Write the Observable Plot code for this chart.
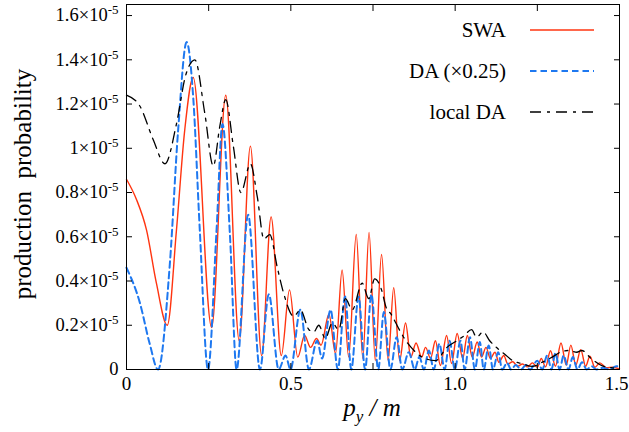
<!DOCTYPE html>
<html><head><meta charset="utf-8">
<script src="https://cdn.jsdelivr.net/npm/d3@7"></script>
<script src="https://cdn.jsdelivr.net/npm/@observablehq/plot@0.6"></script>
<style>body{margin:0;background:#fff} svg, svg text{font-family:"Liberation Serif",serif}</style>
</head><body><div id="chart"></div>
<script>
// x: p_y / m ; y: production probability in units of 1e-5
const swa = [
[0,0.86],[0.03,0.77],[0.061,0.63],[0.091,0.39],[0.124,0.20],[0.152,0.63],[0.177,1.08],[0.203,1.32],
[0.259,0.19],[0.302,1.24],[0.343,0.13],[0.377,1.01],[0.411,0.063],[0.440,0.69],[0.471,0.063],[0.496,0.36],
[0.521,0.056],[0.542,0.154],[0.560,0.10],[0.578,0.14],[0.592,0.11],[0.616,0.25],[0.636,0.072],[0.656,0.45],
[0.676,0.056],[0.699,0.61],[0.719,0.05],[0.738,0.62],[0.757,0.04],[0.776,0.52],[0.796,0.04],[0.813,0.37],
[0.831,0.04],[0.849,0.21],[0.865,0.056],[0.881,0.12],[0.898,0.056],[0.910,0.10],[0.925,0.05],[0.940,0.13],
[0.955,0.018],[0.974,0.154],[0.989,0.027],[1.006,0.163],[1.023,0.05],[1.037,0.154],[1.052,0.056],[1.067,0.124],
[1.080,0.056],[1.094,0.10],[1.107,0.05],[1.121,0.078],[1.133,0.033],[1.148,0.063],[1.160,0.025],[1.175,0.035],
[1.19,0.015],[1.205,0.025],[1.22,0.012],[1.235,0.03],[1.25,0.01],[1.262,0.05],[1.275,0.012],[1.29,0.085],
[1.305,0.015],[1.322,0.12],[1.338,0.02],[1.352,0.11],[1.367,0.02],[1.382,0.09],[1.397,0.015],[1.41,0.06],
[1.425,0.01],[1.44,0.03],[1.46,0.008],[1.48,0.01],[1.5,0.003]
];
const da = [
[0,0.46],[0.041,0.30],[0.07,0.12],[0.096,0.0],[0.132,0.48],[0.157,1.08],[0.183,1.48],[0.203,1.23],
[0.223,0.63],[0.248,0.0],[0.274,0.63],[0.292,1.11],[0.315,0.6],[0.335,0.0],[0.370,0.70],[0.406,0.0],
[0.433,0.34],[0.463,0.0],[0.484,0.063],[0.499,0.0],[0.529,0.27],[0.555,0.0],[0.580,0.13],[0.595,0.05],
[0.621,0.27],[0.643,0.0],[0.665,0.33],[0.684,0.0],[0.706,0.33],[0.726,0.0],[0.745,0.34],[0.766,0.0],
[0.783,0.26],[0.803,0.0],[0.822,0.146],[0.839,0.0],[0.859,0.078],[0.877,0.0],[0.891,0.056],[0.905,0.0],
[0.920,0.086],[0.935,0.0],[0.952,0.116],[0.968,0.0],[0.983,0.13],[0.999,0.0],[1.016,0.13],[1.029,0.0],
[1.045,0.146],[1.060,0.0],[1.075,0.124],[1.087,0.0],[1.102,0.109],[1.115,0.0],[1.131,0.078],[1.143,0.0],
[1.158,0.03],[1.17,0.0],[1.185,0.02],[1.20,0.0],[1.215,0.02],[1.228,0.0],[1.25,0.04],[1.265,0.0],
[1.28,0.063],[1.293,0.0],[1.305,0.074],[1.318,0.0],[1.33,0.063],[1.345,0.0],[1.358,0.056],[1.372,0.0],
[1.386,0.033],[1.40,0.0],[1.415,0.015],[1.43,0.0],[1.45,0.008],[1.47,0.0],[1.49,0.015],[1.5,0.01]
];
const localDa = [
[0,1.24],[0.041,1.19],[0.081,1.04],[0.117,0.93],[0.152,1.11],[0.18,1.33],[0.208,1.40],[0.238,1.16],
[0.264,0.92],[0.284,1.10],[0.302,1.22],[0.325,1.01],[0.348,0.80],[0.377,0.93],[0.398,0.78],[0.418,0.59],
[0.436,0.61],[0.459,0.46],[0.479,0.34],[0.509,0.24],[0.529,0.27],[0.555,0.18],[0.570,0.17],[0.585,0.20],
[0.605,0.14],[0.626,0.21],[0.646,0.18],[0.666,0.32],[0.687,0.27],[0.717,0.39],[0.737,0.32],[0.755,0.41],
[0.776,0.36],[0.79,0.28],[0.805,0.25],[0.83,0.18],[0.85,0.13],[0.866,0.10],[0.90,0.056],[0.94,0.04],
[0.975,0.10],[1.005,0.13],[1.025,0.15],[1.05,0.18],[1.065,0.146],[1.085,0.17],[1.105,0.13],[1.13,0.094],
[1.15,0.07],[1.175,0.04],[1.205,0.026],[1.235,0.014],[1.265,0.033],[1.295,0.056],[1.32,0.078],[1.345,0.086],
[1.37,0.078],[1.385,0.086],[1.415,0.048],[1.445,0.018],[1.475,0.008],[1.5,0.005]
];
const xTickMarks = [0,0.25,0.5,0.75,1,1.25,1.5];
const xTickLabels = [0,0.5,1,1.5];
const xTickText = ["0","0.5","1.0","1.5"];
const yTicks = [0,0.2,0.4,0.6,0.8,1,1.2,1.4,1.6];
const yTickText = ["0","0.2×10^-5","0.4×10^-5","0.6×10^-5","0.8×10^-5","1×10^-5","1.2×10^-5","1.4×10^-5","1.6×10^-5"];
const seriesNames = ["SWA","DA (×0.25)","local DA"];
const seriesColors = ["#ff3410","#1e78f0","#000000"];

const X = d => d[0], Y = d => d[1];
const chart = Plot.plot({
  width: 629, height: 432,
  marginLeft: 126, marginRight: 10, marginTop: 4, marginBottom: 63,
  x: {domain: [0, 1.5]},
  y: {domain: [0, 1.65]},
  style: {fontFamily: "Liberation Serif", fontSize: "18px", background: "white", color: "black"},
  marks: [
    Plot.line(swa, {x: X, y: Y, stroke: seriesColors[0], strokeWidth: 1.4, curve: "monotone-x"}),
    Plot.line(da, {x: X, y: Y, stroke: seriesColors[1], strokeWidth: 2, strokeDasharray: "6.5,4", curve: "monotone-x"}),
    Plot.line(localDa, {x: X, y: Y, stroke: seriesColors[2], strokeWidth: 1.3, strokeDasharray: "11,6,3,6", curve: "monotone-x"}),
    Plot.frame({stroke: "black", strokeWidth: 1}),
    Plot.axisX({anchor: "bottom", ticks: xTickMarks, tickSize: -6, tickFormat: () => "", label: null}),
    Plot.axisX({anchor: "top", ticks: xTickMarks, tickSize: -6, tickFormat: () => "", label: null}),
    Plot.axisX({anchor: "bottom", ticks: xTickLabels, tickSize: 0, tickPadding: 7, fontSize: 19,
      tickFormat: d => xTickText[xTickLabels.indexOf(d)], label: null}),
    Plot.axisY({anchor: "left", ticks: yTicks, tickSize: -6, tickFormat: () => "", label: null}),
    Plot.axisY({anchor: "right", ticks: yTicks, tickSize: -6, tickFormat: () => "", label: null}),
    Plot.axisY({anchor: "left", ticks: yTicks, tickSize: 0, tickPadding: 8, fontSize: 18.5,
      tickFormat: d => yTickText[yTicks.findIndex(t => Math.abs(t - d) < 1e-9)], label: null})
  ]
});
document.getElementById("chart").appendChild(chart);

const svg = d3.select(chart);
// superscripts in y tick labels; keep last x label inside the picture
svg.selectAll("text").each(function() {
  const t = this.textContent;
  if (t.includes("^")) {
    const [base, sup] = t.split("^");
    const el = d3.select(this);
    el.text(null);
    el.append("tspan").text(base);
    el.append("tspan").attr("dy", "-7").attr("font-size", "13").text(sup);
  } else if (t === "1.5") {
    d3.select(this).attr("dx", -3);
  }
});
// axis titles
const xl = svg.append("text").attr("x", 372).attr("y", 416).attr("text-anchor", "middle")
  .attr("font-size", 25).attr("font-style", "italic");
xl.append("tspan").text("p");
xl.append("tspan").attr("dy", 6).attr("font-size", 17).text("y");
xl.append("tspan").attr("dy", -6).text(" / m");
svg.append("text").attr("transform", "translate(31,184) rotate(-90)").attr("text-anchor", "middle")
  .attr("font-size", 25).style("white-space", "pre")
  .text("production  probability");
// legend
const legY = [30, 71, 112];
const dashes = [null, "6.5,4", "11,6,3,6"];
const widths = [1.4, 2, 1.3];
seriesNames.forEach((n, i) => {
  svg.append("text").attr("x", 506).attr("y", legY[i] + 7).attr("text-anchor", "end")
    .attr("font-size", 21).text(n);
  svg.append("line").attr("x1", 530).attr("x2", 594).attr("y1", legY[i]).attr("y2", legY[i])
    .attr("stroke", seriesColors[i]).attr("stroke-width", widths[i]).attr("stroke-dasharray", dashes[i]);
});
svg.selectAll("text").style("font-family", "'Liberation Serif', serif");
</script></body></html>
